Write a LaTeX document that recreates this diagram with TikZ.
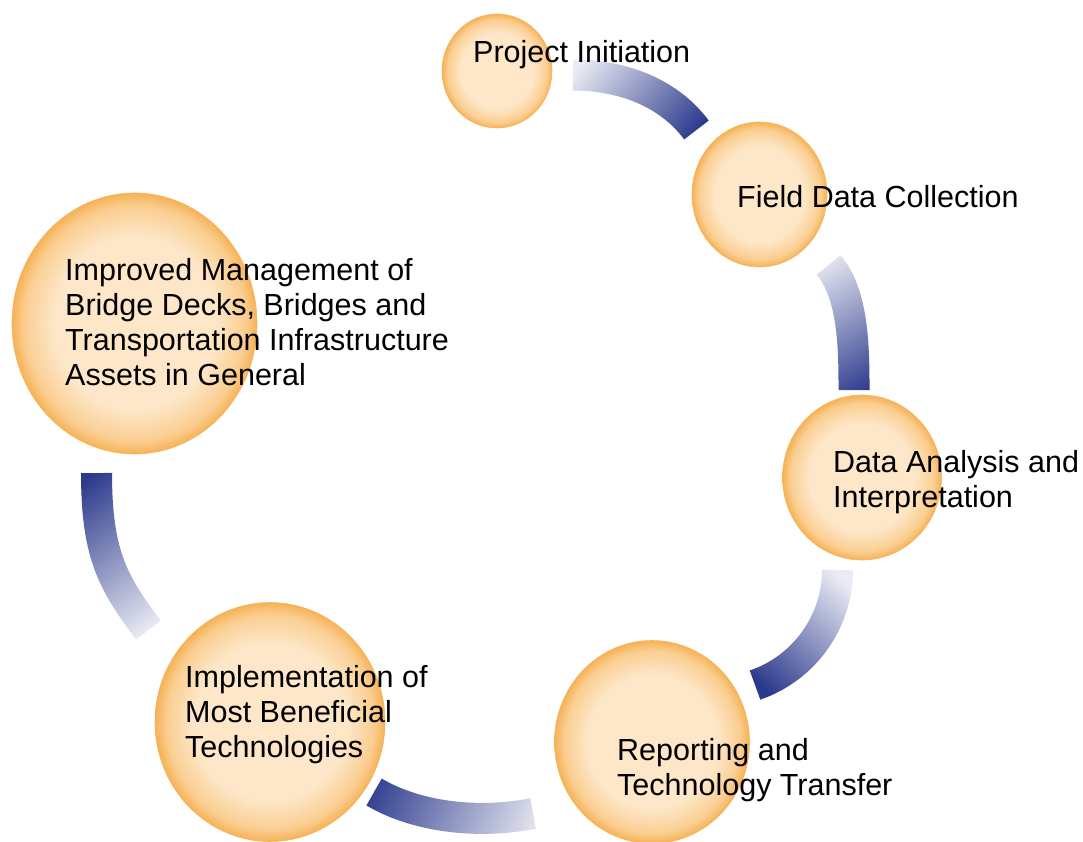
\documentclass[tikz,border=0pt]{standalone}
\usepackage{fontspec}
\setmainfont{Liberation Sans}
\usetikzlibrary{fadings,shapes.geometric}
\definecolor{orbin}{RGB}{253,231,200}
\definecolor{orbmid}{RGB}{250,206,145}
\definecolor{orbout}{RGB}{246,178,86}
\definecolor{orbedge}{RGB}{246,182,96}
\definecolor{navy}{RGB}{44,58,140}
\pgfdeclareradialshading{orbshade}{\pgfpoint{0bp}{0bp}}{color(0bp)=(orbin); color(16.5bp)=(orbin); color(22.5bp)=(orbmid); color(25bp)=(orbout); color(50bp)=(orbout)}
\tikzfading[name=arcfade, left color=transparent!90, right color=transparent!0]
\tikzset{
  orbbase/.style={shade, shading=orbshade, draw=orbedge, line width=0.6pt, inner sep=0pt},
  orbell/.style n args={2}{orbbase, ellipse, minimum width=#1, minimum height=#2},
  lbl/.style={font=\fontsize{30.5}{35}\selectfont, align=left, inner sep=0pt, anchor=base west, text=black},
  band/.style={draw=navy, line width=31pt, line cap=butt, path fading=arcfade},
}
\begin{document}
\begin{tikzpicture}[x=1pt,y=-1pt]
\useasboundingbox (0,0) rectangle (1083,842);
% circles
\node[orbell={110pt}{114pt}] (c1) at (497,71) {};
\node[orbell={135pt}{145pt}] (c2) at (759.5,194.5) {};
\node[orbell={159pt}{165pt}] (c3) at (862,477.5) {};
\node[orbell={195pt}{203pt}] (c4) at (652,742) {};
\node[orbell={230pt}{239pt}] (c5) at (270,722) {};
\node[orbell={245pt}{261pt}] (c6) at (134.5,323.5) {};
% arc end points
\coordinate (a1s) at (573,75);    \coordinate (a1e) at (696.5,130);
\coordinate (a2s) at (828.5,265); \coordinate (a2e) at (854,390);
\coordinate (a3s) at (837.5,570); \coordinate (a3e) at (755,685);
\coordinate (a4s) at (533,813.5); \coordinate (a4e) at (374,792);
\coordinate (a5s) at (148.5,630); \coordinate (a5e) at (96.5,473);
% arcs
\draw[band, fading angle=-24] (a1s) .. controls (620.6,75) and (668.2,91.7) .. (a1e);
\draw[band, fading angle=-78] (a2s) .. controls (853.4,293.7) and (854,348) .. (a2e);
\draw[band, fading angle=-126] (a3s) .. controls (837.5,621.7) and (804,668.4) .. (a3e);
\draw[band, fading angle=172.5] (a4s) .. controls (480,824) and (418,818) .. (a4e);
\draw[band, fading angle=108] (a5s) .. controls (112.1,582.3) and (96.5,553) .. (a5e);
% labels (anchor = baseline of the last line)
\node[lbl] (t1) at (473,63) {Project Initiation};
\node[lbl] (t2) at (737,208) {Field Data Collection};
\node[lbl] (t3) at (833,507) {Data Analysis and\\Interpretation};
\node[lbl] (t4) at (617,795) {Reporting and\\Technology Transfer};
\node[lbl] (t5) at (185,757) {Implementation of\\Most Beneficial\\Technologies};
\node[lbl] (t6) at (65,385) {Improved Management of\\Bridge Decks, Bridges and\\Transportation Infrastructure\\Assets in General};
\end{tikzpicture}
\end{document}
